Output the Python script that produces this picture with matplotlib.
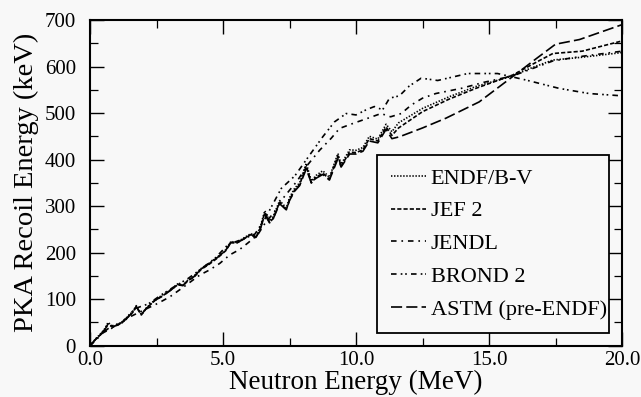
import matplotlib
matplotlib.use("Agg")
import matplotlib.pyplot as plt
from matplotlib.ticker import MultipleLocator, FixedLocator

plt.rcParams['font.family'] = ['Liberation Serif', 'DejaVu Serif']
plt.rcParams['lines.scale_dashes'] = False

# ---------------- data ----------------
bundle_x = [0, 0.2, 0.42, 0.55, 0.68, 0.86, 1.0, 1.18, 1.4, 1.6, 1.74, 1.93, 2.1, 2.43,
            2.7, 2.93, 3.3, 3.5, 3.68, 3.9, 4.18, 4.5, 4.8, 5.1, 5.3, 5.5, 5.68, 6.05,
            6.24, 6.4, 6.57, 6.75, 6.88, 7.13, 7.38, 7.5, 7.69, 7.88, 8.13, 8.32, 8.5,
            8.75, 9.0, 9.32, 9.44, 9.76, 10.0, 10.26, 10.5, 10.82, 11.13, 11.35, 11.6]

endf_x = bundle_x + [12.5, 13.5, 14.5, 15.9, 16.5, 17.4, 18.5, 20.0]
endf_y = [0, 14, 27, 36, 50, 41, 45, 50, 62, 73, 86, 67, 80, 98, 108, 116, 133, 130,
          141, 149, 166, 178, 191, 206, 224, 222, 228, 241, 234, 255, 290, 268, 277,
          312, 296, 318, 338, 350, 392, 354, 366, 376, 362, 413, 390, 421, 420, 426,
          450, 444, 476, 460, 479,
          510, 535, 557, 580, 595, 614, 620, 630]

jef_x = bundle_x + [12.5, 13.5, 14.5, 15.9, 16.8, 17.4, 18.5, 20.0]
jef_y = [0, 13, 25, 34, 47, 40, 44, 48, 60, 71, 84, 66, 79, 97, 106, 115, 131, 129,
         140, 147, 164, 176, 189, 204, 222, 220, 226, 239, 232, 252, 286, 265, 273,
         308, 292, 314, 334, 346, 386, 350, 362, 371, 358, 408, 386, 416, 415, 421,
         445, 440, 470, 452, 468,
         503, 530, 553, 582, 610, 628, 633, 655]

jendl_x = [0, 0.5, 1.0, 1.5, 2.0, 2.55, 3.0, 3.44, 4.13, 4.5, 4.88, 5.25, 5.63, 5.94,
           6.3, 6.6, 6.9, 7.3, 7.8, 8.2, 8.63, 9.07, 9.38, 9.9, 10.5, 10.94, 11.3,
           11.7, 12.07, 12.5, 13.0, 13.95, 14.8, 15.9, 17.4, 18.5, 20.0]
jendl_y = [0, 28, 43, 62, 76, 91, 105, 123, 152, 163, 177, 195, 207, 221,
           238, 265, 285, 320, 355, 390, 420, 446, 467, 478, 490, 499, 492,
           499, 517, 532, 542, 553, 566, 580, 612, 622, 633]

brond_x = [0, 0.4, 0.8, 1.2, 1.7, 2.2, 2.7, 3.2, 3.7, 4.2, 4.7, 5.2, 5.7, 6.2, 6.6,
           7.19, 7.7, 8.26, 8.75, 9.19, 9.63, 10.0, 10.38, 10.69, 11.0, 11.26, 11.63,
           12.0, 12.45, 13.07, 14.2, 15.32, 16.39, 17.64, 18.76, 20.0]
brond_y = [0, 24, 42, 50, 80, 90, 110, 128, 145, 166, 188, 218, 228, 240, 275,
           338, 365, 410, 449, 481, 499, 496, 507, 514, 507, 532, 537,
           558, 575, 570, 585, 585, 571, 553, 542, 537]

astm_x = bundle_x[:-2] + [11.35, 11.63, 12.5, 13.38, 14.63, 15.88, 16.8, 17.5, 18.4, 20.0]
astm_y = [0, 13, 26, 34, 46, 40, 44, 48, 60, 71, 84, 67, 79, 97, 106, 115, 131, 130,
          140, 148, 165, 177, 190, 205, 222, 221, 226, 239, 233, 250, 282, 264, 272,
          305, 292, 312, 332, 344, 380, 350, 360, 368, 356, 402, 384, 412, 412, 418,
          440, 436, 465,
          445, 449, 468, 489, 524, 578, 618, 648, 658, 690]

labels = ['ENDF/B-V', 'JEF 2', 'JENDL', 'BROND 2', 'ASTM (pre-ENDF)']
xtick_labels = ['0.0', '5.0', '10.0', '15.0', '20.0']

# ---------------- plot ----------------
fig = plt.figure(figsize=(6.41, 3.97), dpi=100)
fig.patch.set_facecolor('#f8f8f8')
ax = fig.add_axes([0.1404, 0.1292, 0.8300, 0.8204])
ax.set_facecolor('#f8f8f8')

lw = 1.2
ax.plot(endf_x, endf_y, color='black', lw=lw, linestyle=(0, (1, 1.2)), label=labels[0])
ax.plot(jef_x, jef_y, color='black', lw=lw, linestyle=(0, (3, 1.5)), label=labels[1])
ax.plot(jendl_x, jendl_y, color='black', lw=lw, linestyle=(0, (4, 3.5, 1.2, 3.5)), label=labels[2])
ax.plot(brond_x, brond_y, color='black', lw=lw, linestyle=(0, (4, 3, 1.2, 2, 1.2, 3)), label=labels[3])
ax.plot(astm_x, astm_y, color='black', lw=lw, linestyle=(0, (8, 3)), label=labels[4])

ax.set_xlim(0, 20)
ax.set_ylim(0, 700)
ax.xaxis.set_major_locator(FixedLocator([0, 5, 10, 15, 20]))
ax.xaxis.set_minor_locator(MultipleLocator(2.5))
ax.yaxis.set_major_locator(MultipleLocator(100))
ax.yaxis.set_minor_locator(MultipleLocator(50))
ax.set_xticklabels(xtick_labels)

ax.tick_params(which='both', direction='in', top=True, right=True, colors='black')
ax.tick_params(which='major', length=10, width=1.0, labelsize=15)
ax.tick_params(which='minor', length=6, width=0.9)
ax.tick_params(axis='y', which='major', pad=10)
ax.tick_params(axis='x', which='major', pad=4)
for s in ax.spines.values():
    s.set_linewidth(1.5)

ax.set_xlabel('Neutron Energy (MeV)', fontsize=19.5, labelpad=0)
ax.xaxis.set_label_coords(0.5, -0.073, transform=ax.transAxes)
ax.xaxis.label.set_va('top')
ax.set_ylabel('PKA Recoil Energy (keV)', fontsize=20.5, labelpad=4)

leg = ax.legend(loc='lower left', bbox_to_anchor=(0.54, 0.039, 0.436, 0.556),
                mode='expand', fontsize=16, frameon=True, fancybox=False,
                edgecolor='black', facecolor='#f8f8f8', framealpha=1,
                handlelength=1.6, handletextpad=0.2, borderaxespad=0,
                labelspacing=0.55, borderpad=0.6)
leg.get_frame().set_linewidth(1.3)

fig.savefig('out.png', dpi=100, facecolor=fig.get_facecolor())
